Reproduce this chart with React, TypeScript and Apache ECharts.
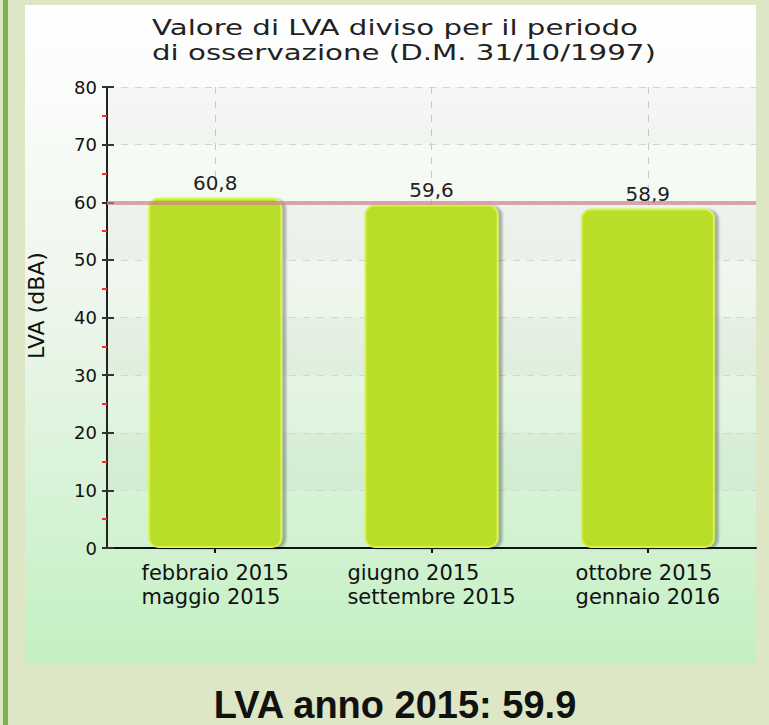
import React, { useEffect, useRef } from "react";
import * as echarts from "echarts";

const categories = [
  "febbraio 2015\nmaggio 2015",
  "giugno 2015\nsettembre 2015",
  "ottobre 2015\ngennaio 2016",
];
const lvaValues = [60.8, 59.6, 58.9];
const thresholdValue = 60;
const yTicks = { min: 0, max: 80, interval: 10 };
const titleLines = ["Valore di LVA diviso per il periodo", "di osservazione (D.M. 31/10/1997)"];
const yAxisName = "LVA (dBA)";
const footerText = "LVA anno 2015: 59.9";

const FONT = "DejaVu Sans";

export default function App() {
  const ref = useRef<HTMLDivElement>(null);
  useEffect(() => {
    if (!ref.current) return;
    const chart = echarts.init(ref.current, null, { renderer: "svg" });
    const fmt = (v: number) => v.toFixed(1).replace(".", ",");
    chart.setOption({
      animation: false,
      graphic: [
        { type: "rect", z: -10, silent: true, shape: { x: 0, y: 0, width: 769, height: 725 }, style: { fill: "#dde7c5" } },
        { type: "rect", z: -9, silent: true, shape: { x: 3, y: 0, width: 5, height: 725 }, style: { fill: "#7db348" } },
        {
          type: "rect", z: -8, silent: true,
          shape: { x: 25, y: 5, width: 731, height: 658 },
          style: {
            fill: new echarts.graphic.LinearGradient(0, 0, 0, 1, [
              { offset: 0, color: "#ffffff" },
              { offset: 0.45, color: "#eef6ec" },
              { offset: 1, color: "#c3f0c3" },
            ]),
          },
        },
        {
          type: "text", x: 152, y: 15, scaleX: 1.33,
          style: { text: titleLines.join("\n"), font: `22px '${FONT}'`, fill: "#222", lineHeight: 25 },
        },
        {
          type: "text", x: 395, y: 686,
          style: { text: footerText, font: `bold 38px 'Liberation Sans'`, fill: "#111", align: "center" },
        },
      ],
      grid: { left: 107, top: 87, width: 649, height: 461, show: false },
      xAxis: {
        type: "category",
        data: categories,
        axisLine: { lineStyle: { color: "#111", width: 2 } },
        axisTick: { show: true, alignWithLabel: true, length: 5, lineStyle: { color: "#111", width: 2 } },
        splitLine: { show: true, alignWithLabel: true, lineStyle: { color: "#c8c8c8", type: [7, 7], width: 1 } },
        axisLabel: {
          margin: 13,
          color: "#111",
          formatter: (v: string) => v.split("\n").map((l) => `{a|${l}}`).join("\n"),
          rich: { a: { fontFamily: FONT, fontSize: 21, lineHeight: 24, align: "left", color: "#111" } },
        },
      },
      yAxis: [
        {
          type: "value",
          min: yTicks.min, max: yTicks.max, interval: yTicks.interval,
          name: yAxisName,
          nameLocation: "middle",
          nameGap: 60,
          nameTextStyle: { fontFamily: FONT, fontSize: 22, color: "#111", padding: [0, 0, 0, 24] },
          axisLine: { show: true, lineStyle: { color: "#222", width: 2 } },
          axisTick: { show: true, length: 5, lineStyle: { color: "#333", width: 2 } },
          minorTick: { show: true, splitNumber: 2, length: 5, lineStyle: { color: "#f03030", width: 2 } },
          axisLabel: { fontFamily: FONT, fontSize: 18, color: "#111", margin: 10 },
          splitLine: { show: true, lineStyle: { color: "#d4d4d4", type: [7, 7], width: 1 } },
          splitArea: { show: true, areaStyle: { color: ["rgba(0,0,0,0.0)", "rgba(0,0,0,0.025)"] } },
        },
        {
          type: "value",
          min: yTicks.min, max: yTicks.max, interval: yTicks.interval,
          position: "left",
          axisLine: { show: false },
          axisTick: { show: true, inside: true, length: 7, lineStyle: { color: "#333", width: 2 } },
          axisLabel: { show: false },
          splitLine: { show: false },
        },
      ],
      series: [
        {
          type: "bar",
          data: lvaValues,
          barWidth: 134,
          z: 2,
          itemStyle: {
            color: "#b9de2c",
            borderColor: "#d8f248",
            borderWidth: 2,
            borderRadius: 9,
            shadowColor: "rgba(0,0,0,0.28)",
            shadowOffsetX: 4,
            shadowOffsetY: 1,
            shadowBlur: 2,
          },
          label: {
            show: true,
            position: "top",
            distance: 5,
            formatter: (p: any) => fmt(p.value),
            fontFamily: FONT,
            fontSize: 20,
            color: "#222",
          },
        },
        {
          type: "line",
          data: [],
          z: 5,
          markLine: {
            silent: true,
            symbol: ["none", "none"],
            label: { show: false },
            lineStyle: { color: "rgba(210,130,140,0.7)", width: 4, type: "solid" },
            data: [{ yAxis: thresholdValue }],
          },
        },
      ],
    });
    return () => chart.dispose();
  }, []);
  return <div ref={ref} style={{ position: "absolute", left: 0, top: 0, width: 769, height: 725 }} />;
}
